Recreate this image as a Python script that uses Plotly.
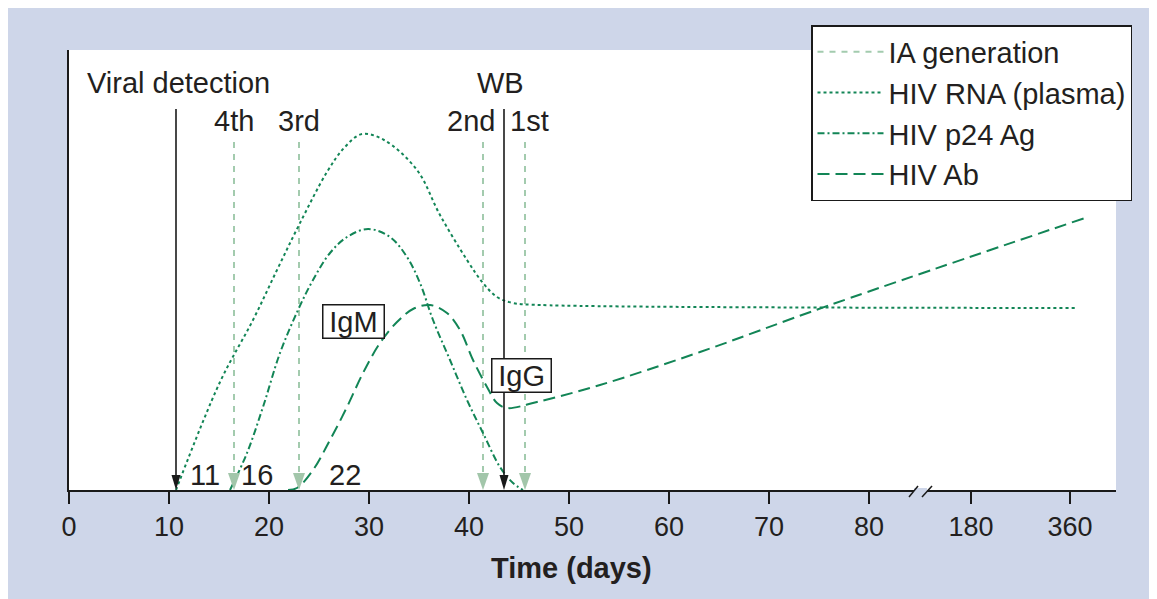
import plotly.graph_objects as go

# ---------------- data ----------------
# x is in "axis position" units: days 0-80 linear, then compressed (180 -> 90, 360 -> 100)
tick_pos = [0, 10, 20, 30, 40, 50, 60, 70, 80, 90.2, 100.1]
tick_labels = ["0", "10", "20", "30", "40", "50", "60", "70", "80", "180", "360"]

rna_x = [10.7, 15.1, 18.4, 20.8, 23.0, 25.8, 27.5, 29.3, 31.5, 34.8, 37.1, 39.8, 41.4, 42.8, 44.4, 47.1, 100.6]
rna_y = [0, 108, 170, 220, 265, 318, 342, 356, 350, 320, 275, 230, 207, 193, 187, 185, 182]

p24_x = [16.1, 17.8, 19.4, 21.1, 22.9, 24.4, 26.1, 27.8, 29.9, 32.1, 33.8, 35.1, 36.4, 38.1, 39.8, 41.4, 43.1, 44.4, 45.4]
p24_y = [0, 37, 83, 137, 180, 210, 237, 253, 261, 253, 233, 207, 170, 130, 90, 57, 23, 7, 0]

ab_x = [21.9, 22.8, 24.4, 26.1, 27.8, 29.4, 31.1, 32.8, 34.4, 36.1, 37.8, 39.1, 40.4, 41.8, 42.8, 43.8, 46.8, 53.1, 63.1, 76.1, 101.6]
ab_y = [0, 2, 20, 50, 83, 117, 147, 168, 181, 185, 177, 160, 130, 103, 87, 82, 88, 105, 138, 185, 272]

ia_x = [16.5, 23.0, 41.4, 45.6]
ia_labels = ["4th", "3rd", "2nd", "1st"]
ia_label_x = [16.45, 22.95, 40.2, 46.0]

marker_x = [10.7, 43.5]
marker_labels = ["Viral detection", "WB"]
marker_label_x = [10.9, 43.15]

day_labels = ["11", "16", "22"]
day_label_x = [13.6, 18.8, 27.6]

box_labels = ["IgM", "IgG"]
box_x = [28.4, 45.2]
box_y = [169, 115]

# ---------------- style ----------------
XMAX = 104.7
YMAX = 440
GREEN = "#128556"
LIGHT = "#a3cbae"
ARROW_LIGHT = "#a2c6aa"
BLUE = "#ced6e9"
TXT = "#231f20"
FONT = "Liberation Sans, Arial, sans-serif"
FS = 29

fig = go.Figure()

# IA generation vertical dashed lines
iax, iay = [], []
for x in ia_x:
    iax += [x, x, None]
    iay += [348, 16, None]
fig.add_trace(go.Scatter(x=iax, y=iay, mode="lines", name="IA generation",
                         line=dict(color=LIGHT, width=2, dash="6px,6px"),
                         hoverinfo="skip"))

fig.add_trace(go.Scatter(x=rna_x, y=rna_y, mode="lines", name="HIV RNA (plasma)",
                         line=dict(color=GREEN, width=2, dash="3px,3px", shape="spline", smoothing=1)))
fig.add_trace(go.Scatter(x=p24_x, y=p24_y, mode="lines", name="HIV p24 Ag",
                         line=dict(color=GREEN, width=2, dash="7px,3px,2px,3px", shape="spline", smoothing=1)))
fig.add_trace(go.Scatter(x=ab_x, y=ab_y, mode="lines", name="HIV Ab",
                         line=dict(color=GREEN, width=2, dash="12px,6px", shape="spline", smoothing=1)))

shapes = []
# black marker lines with arrowheads
for x in marker_x:
    shapes.append(dict(type="line", xref="x", yref="y", x0=x, x1=x, y0=381, y1=12,
                       line=dict(color="#1a1a1a", width=1.6)))
    shapes.append(dict(type="path", xref="x", yref="y",
                       path=f"M {x - 0.45},15 L {x + 0.45},15 L {x},0 Z",
                       fillcolor="#1a1a1a", line=dict(width=0)))
# IA arrowheads
for x in ia_x:
    shapes.append(dict(type="path", xref="x", yref="y",
                       path=f"M {x - 0.6},17 L {x + 0.6},17 L {x},0 Z",
                       fillcolor=ARROW_LIGHT, line=dict(width=0)))

# axis break marks
shapes.append(dict(type="line", xref="paper", yref="paper",
                   x0=84.5 / XMAX, x1=85.8 / XMAX, y0=0, y1=0,
                   line=dict(color=BLUE, width=4)))
for a, b in [(84.0, 84.9), (85.3, 86.3)]:
    shapes.append(dict(type="line", xref="paper", yref="paper",
                       x0=a / XMAX, x1=b / XMAX, y0=-7 / YMAX, y1=4 / YMAX,
                       line=dict(color="#1a1a1a", width=1.5)))

annotations = []
for t, x in zip(marker_labels, marker_label_x):
    annotations.append(dict(text=t, x=x, y=407, xref="x", yref="y", showarrow=False,
                            font=dict(size=FS, color=TXT, family=FONT)))
for t, x in zip(ia_labels, ia_label_x):
    annotations.append(dict(text=t, x=x, y=369, xref="x", yref="y", showarrow=False,
                            font=dict(size=FS, color=TXT, family=FONT)))
for t, x in zip(day_labels, day_label_x):
    annotations.append(dict(text=t, x=x, y=15, xref="x", yref="y", showarrow=False,
                            font=dict(size=FS, color=TXT, family=FONT)))
for t, x, y in zip(box_labels, box_x, box_y):
    annotations.append(dict(text="\u2009" + t + "\u2009", x=x, y=y, xref="x", yref="y", showarrow=False,
                            font=dict(size=FS, color=TXT, family=FONT),
                            bgcolor="white", bordercolor="#1a1a1a", borderwidth=1.5, borderpad=0))
annotations.append(dict(text="<b>Time (days)</b>", x=50.2, y=-78 / YMAX, xref="x", yref="paper",
                        xanchor="center", yanchor="middle",
                        showarrow=False, font=dict(size=FS, color=TXT, family=FONT)))

# page body has an 8px margin -> figure sits at (8, 8) in the 1157x599 window
fig.update_layout(
    width=1149, height=591,
    margin=dict(l=61, r=41, t=42, b=109),
    paper_bgcolor=BLUE, plot_bgcolor="white",
    font=dict(family=FONT, color=TXT),
    shapes=shapes, annotations=annotations,
    showlegend=True,
    legend=dict(x=(811 - 69) / 1047, y=(490 - 25) / YMAX, xanchor="left", yanchor="top",
                bgcolor="white", bordercolor="#1a1a1a", borderwidth=1.5,
                font=dict(size=FS, color=TXT, family=FONT), itemwidth=66,
                tracegroupgap=0),
    xaxis=dict(range=[0, XMAX], tickvals=tick_pos, ticktext=tick_labels,
               showgrid=False, zeroline=False, showline=True, linecolor="#1a1a1a", linewidth=1.5,
               ticks="outside", ticklen=12, tickwidth=1.5, tickcolor="#1a1a1a",
               tickfont=dict(size=27, color=TXT, family=FONT), fixedrange=True),
    yaxis=dict(range=[0, YMAX], showgrid=False, zeroline=False, showline=True,
               linecolor="#1a1a1a", linewidth=1.5, showticklabels=False, ticks="",
               fixedrange=True),
)

fig.write_html("out.html")
